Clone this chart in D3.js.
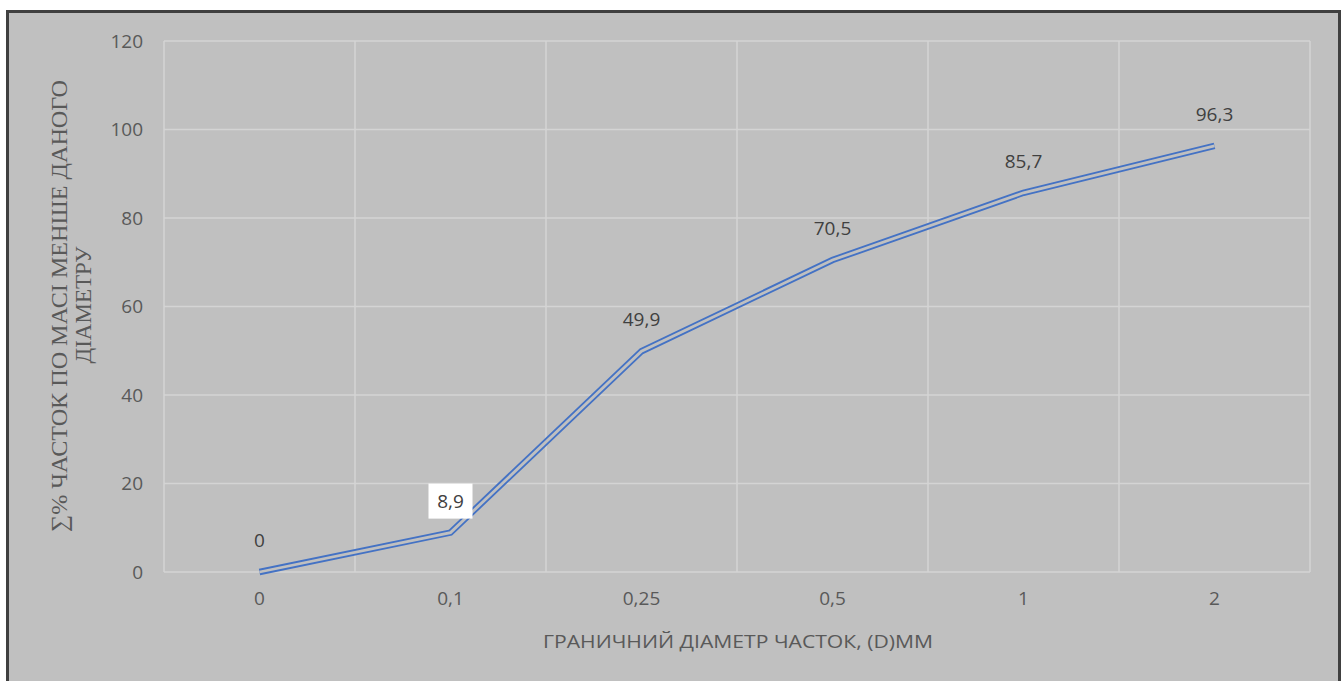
<!DOCTYPE html>
<html>
<head>
<meta charset="utf-8">
<script src="https://cdn.jsdelivr.net/npm/d3@7"></script>
<style>
  html, body { margin: 0; padding: 0; background: #ffffff; }
  svg { display: block; }
</style>
</head>
<body>
<svg id="chart" width="1342" height="681"></svg>
<script>
// Cumulative share of particles finer than a given diameter
const categories = ["0", "0,1", "0,25", "0,5", "1", "2"];
const values = [0, 8.9, 49.9, 70.5, 85.7, 96.3];
const valueLabels = ["0", "8,9", "49,9", "70,5", "85,7", "96,3"];
const yTicks = [0, 20, 40, 60, 80, 100, 120];
const xTitle = "ГРАНИЧНИЙ ДІАМЕТР ЧАСТОК, (D)MM";
const yTitleLines = ["∑% ЧАСТОК ПО МАСІ МЕНШЕ ДАНОГО", "ДІАМЕТРУ"];

const svg = d3.select("#chart");
const bg = "#c0c0c0";
const grid = "#d4d4d4";
const tickColor = "#595959";
const sans = "'Open Sans', 'DejaVu Sans', sans-serif";
const serif = "'Liberation Serif', 'DejaVu Serif', serif";

// frame
svg.append("rect")
  .attr("x", 7.5).attr("y", 11.5)
  .attr("width", 1332).attr("height", 700)
  .attr("fill", bg)
  .attr("stroke", "#404040").attr("stroke-width", 3);

const plot = { left: 164, right: 1310, top: 41, bottom: 572 };

const x = d3.scaleBand().domain(categories).range([plot.left, plot.right]).padding(0);
const y = d3.scaleLinear().domain([0, 120]).range([plot.bottom, plot.top]);
const cx = d => x(d) + x.bandwidth() / 2;

// horizontal gridlines
svg.append("g").selectAll("line").data(yTicks).join("line")
  .attr("x1", plot.left).attr("x2", plot.right)
  .attr("y1", d => y(d)).attr("y2", d => y(d))
  .attr("stroke", grid).attr("stroke-width", 1.5);

// vertical gridlines at category boundaries
const bounds = categories.map(c => x(c)).concat([plot.right]);
svg.append("g").selectAll("line").data(bounds).join("line")
  .attr("x1", d => d).attr("x2", d => d)
  .attr("y1", plot.top).attr("y2", plot.bottom)
  .attr("stroke", grid).attr("stroke-width", 1.5);

// y axis tick labels
const yAxis = d3.axisLeft(y).tickValues(yTicks).tickSize(0).tickPadding(21);
const gy = svg.append("g").attr("transform", `translate(${plot.left},0)`).call(yAxis);
gy.select(".domain").remove();
gy.selectAll("text")
  .attr("fill", tickColor).attr("font-family", sans).attr("font-size", 19);

// x axis tick labels
const xAxis = d3.axisBottom(x).tickSize(0).tickPadding(20);
const gx = svg.append("g").attr("transform", `translate(0,${plot.bottom})`).call(xAxis);
gx.select(".domain").remove();
gx.selectAll("text")
  .attr("fill", tickColor).attr("font-family", sans).attr("font-size", 19);

// double-stroke line
const line = d3.line().x((d, i) => cx(categories[i])).y(d => y(d));
svg.append("path").datum(values)
  .attr("d", line).attr("fill", "none")
  .attr("stroke", "#4472c4").attr("stroke-width", 6.5)
  .attr("stroke-linejoin", "miter");
svg.append("path").datum(values)
  .attr("d", line).attr("fill", "none")
  .attr("stroke", bg).attr("stroke-width", 2.8)
  .attr("stroke-linejoin", "miter");

// data labels
const labels = svg.append("g");
values.forEach((v, i) => {
  const lx = cx(categories[i]);
  const ly = y(v) - 32;
  if (valueLabels[i] === "8,9") {
    labels.append("rect")
      .attr("x", lx - 22).attr("y", ly - 17)
      .attr("width", 44).attr("height", 35)
      .attr("fill", "#ffffff");
  }
  labels.append("text")
    .attr("x", lx).attr("y", ly)
    .attr("text-anchor", "middle").attr("dominant-baseline", "central")
    .attr("fill", "#404040").attr("font-family", sans).attr("font-size", 19)
    .text(valueLabels[i]);
});

// axis titles
svg.append("text")
  .attr("x", 738).attr("y", 641)
  .attr("text-anchor", "middle").attr("dominant-baseline", "central")
  .attr("fill", tickColor).attr("font-family", sans).attr("font-size", 19)
  .attr("textLength", 390).attr("lengthAdjust", "spacingAndGlyphs")
  .text(xTitle);

svg.append("text")
  .attr("transform", "translate(67,306) rotate(-90)")
  .attr("text-anchor", "middle")
  .attr("fill", tickColor).attr("font-family", serif)
  .attr("font-size", 23)
  .attr("textLength", 452).attr("lengthAdjust", "spacingAndGlyphs")
  .text(yTitleLines[0]);
svg.append("text")
  .attr("transform", "translate(91,305) rotate(-90)")
  .attr("text-anchor", "middle")
  .attr("fill", tickColor).attr("font-family", serif)
  .attr("font-size", 23)
  .text(yTitleLines[1]);
</script>
</body>
</html>
